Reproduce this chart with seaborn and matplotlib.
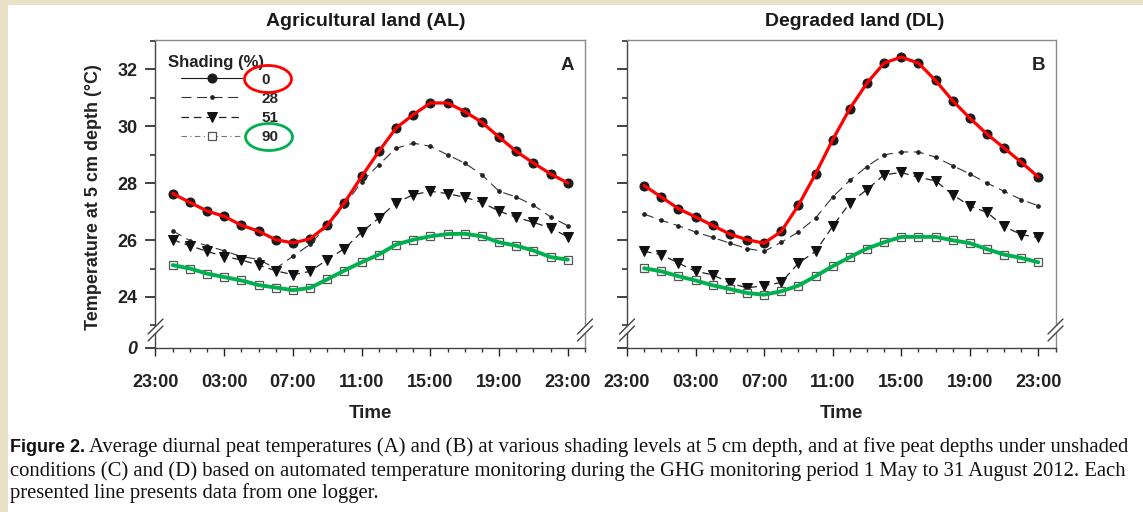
import matplotlib
matplotlib.use("Agg")
import matplotlib.pyplot as plt
import seaborn as sns
import numpy as np
from matplotlib.patches import Ellipse, Rectangle, Polygon
from matplotlib.lines import Line2D

W, H = 1143, 512

# Heures (0 = 00:00), l'axe commence a 23:00 la veille
hours = [0, 1, 2, 3, 4, 5, 6, 7, 8, 9, 10, 11, 12, 13, 14, 15, 16, 17, 18, 19, 20, 21, 22, 23]
shading_levels = ["0", "28", "51", "90"]

# Agricultural land (AL)
al_0 = [27.63, 27.32, 27.02, 26.83, 26.52, 26.31, 26.01, 25.90, 26.04, 26.52, 27.31, 28.23,
        29.11, 29.93, 30.40, 30.81, 30.81, 30.51, 30.13, 29.61, 29.11, 28.70, 28.32, 28.00]
al_28 = [26.32, 25.98, 25.80, 25.62, 25.42, 25.32, 25.00, 25.43, 25.85, 26.50, 27.20, 28.05,
         28.64, 29.22, 29.40, 29.29, 28.99, 28.70, 28.29, 27.71, 27.51, 27.22, 26.81, 26.50]
al_51 = [26.01, 25.80, 25.60, 25.42, 25.30, 25.12, 24.92, 24.78, 24.90, 25.31, 25.70, 26.28,
         26.77, 27.30, 27.59, 27.71, 27.63, 27.50, 27.32, 27.01, 26.80, 26.62, 26.42, 26.11]
al_90 = [25.12, 25.00, 24.82, 24.70, 24.58, 24.42, 24.33, 24.24, 24.32, 24.62, 24.93, 25.22,
         25.49, 25.84, 26.01, 26.13, 26.21, 26.22, 26.13, 25.92, 25.80, 25.63, 25.40, 25.31]

# Degraded land (DL)
dl_0 = [27.91, 27.51, 27.10, 26.81, 26.51, 26.21, 26.01, 25.89, 26.30, 27.22, 28.32, 29.52,
        30.61, 31.51, 32.21, 32.42, 32.21, 31.60, 30.89, 30.28, 29.72, 29.23, 28.73, 28.21]
dl_28 = [26.91, 26.69, 26.50, 26.28, 26.09, 25.89, 25.70, 25.60, 25.92, 26.28, 26.77, 27.51,
         28.09, 28.58, 28.99, 29.09, 29.09, 28.91, 28.61, 28.32, 28.00, 27.71, 27.42, 27.20]
dl_51 = [25.60, 25.49, 25.19, 24.90, 24.78, 24.49, 24.32, 24.40, 24.51, 25.19, 25.60, 26.48,
         27.30, 27.77, 28.29, 28.37, 28.20, 28.08, 27.59, 27.20, 26.97, 26.48, 26.19, 26.09]
dl_90 = [25.01, 24.90, 24.73, 24.58, 24.41, 24.28, 24.14, 24.08, 24.20, 24.40, 24.73, 25.08,
         25.40, 25.70, 25.92, 26.11, 26.11, 26.11, 25.99, 25.89, 25.68, 25.49, 25.37, 25.22]

major_hours = [-1, 3, 7, 11, 15, 19, 23]
major_labels = ["23:00", "03:00", "07:00", "11:00", "15:00", "19:00", "23:00"]
y_ticks = [24, 26, 28, 30, 32]
y_break = 22.21   # position du "0" sous l'axe coupe
y_top = 33.02

caption_1 = ("Average diurnal peat temperatures (A) and (B) at various shading levels at 5 cm depth, "
             "and at five peat depths under unshaded")
caption_2 = ("conditions (C) and (D) based on automated temperature monitoring during the GHG "
             "monitoring period 1 May to 31 August 2012. Each")
caption_3 = "presented line presents data from one logger."

styles = {
    "0": dict(color="#1a1a1a", linewidth=0.8, linestyle="-", marker="o", markersize=6.5,
              markerfacecolor="#1a1a1a", markeredgecolor="#1a1a1a"),
    "28": dict(color="#333333", linewidth=0.8, linestyle=(0, (9, 5)), marker="o", markersize=2.6,
               markerfacecolor="#222222", markeredgecolor="#222222"),
    "51": dict(color="#222222", linewidth=0.9, linestyle=(0, (6, 4)), marker="v", markersize=6.5,
               markerfacecolor="#111111", markeredgecolor="#111111"),
    "90": dict(color="#777777", linewidth=0.8, linestyle=(0, (5, 3, 1, 3)), marker="s", markersize=5.5,
               markerfacecolor="white", markeredgecolor="#555555", markeredgewidth=0.9),
}

sns.set_style("ticks")
plt.rcParams['font.family'] = ['Liberation Sans', 'DejaVu Sans']


def fx(x):
    return x / W


def fy(y):
    return 1 - y / H


def add_break(fig, xs):
    """Dessine les marques // de coupure d'axe"""
    for x in xs:
        poly = Polygon([(fx(x - 7.5), fy(334)), (fx(x + 7.5), fy(319)),
                        (fx(x + 7.5), fy(326)), (fx(x - 7.5), fy(341))],
                       closed=True, transform=fig.transFigure, facecolor="white",
                       edgecolor="none", zorder=20)
        fig.add_artist(poly)
        for y0 in (334, 341):
            fig.add_artist(Line2D([fx(x - 7.5), fx(x + 7.5)], [fy(y0), fy(y0 - 15)],
                                  transform=fig.transFigure, color="#444444", lw=1.0, zorder=21))


def draw_panel(ax, series, letter, show_ylabels):
    for level, vals in zip(shading_levels, series):
        sns.lineplot(x=hours, y=vals, ax=ax, label=level, errorbar=None, zorder=2, **styles[level])
    if ax.get_legend() is not None:
        ax.get_legend().remove()

    # Lignes de mise en evidence (0 % en rouge, 90 % en vert)
    sns.lineplot(x=hours, y=series[0], ax=ax, color="#ff0000", linewidth=2.3,
                 errorbar=None, legend=False, zorder=5)
    sns.lineplot(x=hours, y=series[3], ax=ax, color="#00b04f", linewidth=2.8,
                 errorbar=None, legend=False, zorder=5)

    ax.set_xlim(-1, 24)
    ax.set_xticks(major_hours)
    ax.set_xticklabels(major_labels)
    ax.set_xticks(np.arange(-1, 25), minor=True)

    ax.set_ylim(y_break, y_top)
    ax.set_yticks([y_break] + y_ticks)
    ax.set_yticks([23, 25, 27, 29, 31, 33], minor=True)
    if show_ylabels:
        ax.set_yticklabels(["0"] + [str(v) for v in y_ticks])
    else:
        ax.set_yticklabels([])

    ax.tick_params(axis="x", which="major", length=6, width=1, pad=12.5, labelsize=13, colors="#222222")
    ax.tick_params(axis="x", which="minor", length=3, width=1, colors="#333333")
    ax.tick_params(axis="y", which="major", length=7, width=1.2, pad=6, labelsize=13, colors="#222222")
    ax.tick_params(axis="y", which="minor", length=3.5, width=1.2, colors="#333333")
    for lbl in ax.get_xticklabels() + ax.get_yticklabels():
        lbl.set_fontweight("bold")
    if show_ylabels:
        ax.get_yticklabels()[0].set_fontstyle("italic")

    for side in ("left", "bottom"):
        ax.spines[side].set_color("#444444")
        ax.spines[side].set_linewidth(1.0)
    for side in ("top", "right"):
        ax.spines[side].set_color("#8a8a8a")
        ax.spines[side].set_linewidth(1.0)

    ax.set_xlabel("Time", fontsize=13.5, fontweight="bold", color="#222222")
    ax.xaxis.set_label_coords(0.5, -0.186)
    ax.set_ylabel("")
    ax.text(0.975, 0.945, letter, transform=ax.transAxes, ha="right", va="top",
            fontsize=13.5, fontweight="bold", color="#222222")


fig = plt.figure(figsize=(W / 100, H / 100), dpi=100, facecolor="#e9e0c8")
fig.add_artist(Rectangle((fx(8), 0), 1 - fx(8), fy(5), transform=fig.transFigure,
                         facecolor="white", edgecolor="none", zorder=-10))

ax_a = fig.add_axes([fx(155.5), fy(348), fx(585 - 155.5), 308 / H])
ax_b = fig.add_axes([fx(627), fy(348), fx(1055.5 - 627), 308 / H])

draw_panel(ax_a, [al_0, al_28, al_51, al_90], "A", True)
draw_panel(ax_b, [dl_0, dl_28, dl_51, dl_90], "B", False)

ax_a.set_ylabel("Temperature at 5 cm depth (\u00b0C)", fontsize=13, fontweight="bold", color="#222222")
ax_a.yaxis.set_label_coords(-0.125, 0.49)

# Legende du panneau A
handles = ax_a.get_lines()[:4]
ax_a.text((168 - 155.5) / 429.5, (348 - 62) / 308, "Shading (%)", transform=ax_a.transAxes,
          ha="left", va="center", fontsize=12, fontweight="bold", color="#222222")
ax_a.legend(handles, shading_levels, loc="upper left", bbox_to_anchor=((181 - 155.5) / 429.5, (348 - 72.5) / 308),
            frameon=False, numpoints=1, handlelength=4.0, handletextpad=1.25, labelspacing=0.34,
            borderpad=0, borderaxespad=0, prop=dict(weight="bold", size=11))

fig.add_artist(Ellipse((fx(268), fy(79)), fx(47), 27 / H, transform=fig.transFigure,
                       fill=False, edgecolor="#ff0000", lw=2.0, zorder=30))
fig.add_artist(Ellipse((fx(269), fy(137)), fx(47), 27 / H, transform=fig.transFigure,
                       fill=False, edgecolor="#00b04f", lw=2.0, zorder=30))

add_break(fig, [155.5, 585, 627, 1055.5])

# Titres des panneaux
title_font = ['Liberation Sans', 'DejaVu Sans']
fig.text(fx(366), fy(22), "Agricultural land (AL)", ha="center", va="center", fontsize=14,
         fontweight="bold", family=title_font, color="#1a1a1a")
fig.text(fx(855), fy(22), "Degraded land (DL)", ha="center", va="center", fontsize=14,
         fontweight="bold", family=title_font, color="#1a1a1a")

# Legende de la figure (texte)
renderer = fig.canvas.get_renderer()
fig_lbl = fig.text(fx(10), fy(447), "Figure 2.", ha="left", va="center", fontsize=13,
                   fontweight="bold", family=title_font, color="#111111")
lbl_w = fig_lbl.get_window_extent(renderer).width
serif = ['Liberation Serif', 'DejaVu Serif']
t1 = fig.text(fx(10 + lbl_w + 4), fy(447), caption_1, ha="left", va="center", fontsize=13.5,
              family=serif, color="#111111")
w1 = t1.get_window_extent(renderer).width
size = 13.5 * (1133 - 14 - lbl_w) / w1
t1.set_fontsize(size)
fig.text(fx(10), fy(471), caption_2, ha="left", va="center", fontsize=size, family=serif, color="#111111")
fig.text(fx(10), fy(493), caption_3, ha="left", va="center", fontsize=size, family=serif, color="#111111")

fig.savefig("out.png", dpi=100, facecolor=fig.get_facecolor())
plt.close(fig)
